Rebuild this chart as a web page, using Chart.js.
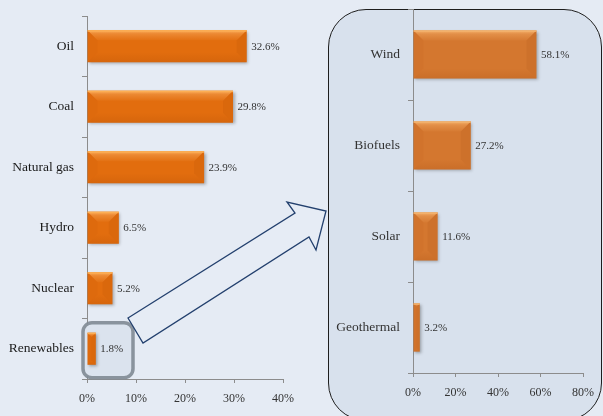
<!DOCTYPE html>
<html>
<head>
<meta charset="utf-8">
<script src="https://cdn.jsdelivr.net/npm/chart.js@4/dist/chart.umd.min.js"></script>
<style>
  html, body { margin: 0; padding: 0; background: #e5ebf4; width: 603px; height: 416px; overflow: hidden; }
  #wrap { position: relative; width: 603px; height: 416px; }
  #panel { position: absolute; left: 328px; top: 9px; width: 272px; height: 410px;
           border: 1.5px solid #1e1e1e; border-radius: 38px; background: #d8e1ed; }
  canvas { position: absolute; top: 0; }
  #mixChart { left: 0; }
  #renewChart { left: 300px; }
  #callout { left: 0; pointer-events: none; }
</style>
</head>
<body>
<div id="wrap">
  <div id="panel"></div>
  <canvas id="mixChart" width="300" height="416"></canvas>
  <canvas id="renewChart" width="303" height="416"></canvas>
  <canvas id="callout" width="603" height="416"></canvas>
</div>
<script>
// Share of primary energy supply by source (%)
const sourceLabels = ['Oil', 'Coal', 'Natural gas', 'Hydro', 'Nuclear', 'Renewables'];
const sourceShares = [32.6, 29.8, 23.9, 6.5, 5.2, 1.8];
const sourceTicks = [0, 10, 20, 30, 40];

// Breakdown of the renewables share (%)
const renewLabels = ['Wind', 'Biofuels', 'Solar', 'Geothermal'];
const renewShares = [58.1, 27.2, 11.6, 3.2];
const renewTicks = [0, 20, 40, 60, 80];

Chart.defaults.font.family = "'Liberation Serif', 'DejaVu Serif', serif";
Chart.defaults.animation = false;

// Drop shadow under each bar, soft bevelled faces on top, and the value label.
function bevelBars(light, labelColor) {
  return {
    id: 'bevelBars',
    beforeDatasetDraw(chart) {
      const c = chart.ctx;
      c.save();
      c.shadowColor = 'rgba(40,40,40,0.35)';
      c.shadowBlur = 3;
      c.shadowOffsetX = 1.5;
      c.shadowOffsetY = 1.5;
    },
    afterDatasetDraw(chart) { chart.ctx.restore(); },
    afterDatasetsDraw(chart) {
      const c = chart.ctx;
      const ds = chart.data.datasets[0];
      chart.getDatasetMeta(0).data.forEach((bar, i) => {
        const p = bar.getProps(['x', 'y', 'base', 'height'], true);
        const l = Math.min(p.base, p.x), r = Math.max(p.base, p.x);
        const t = p.y - p.height / 2, bt = p.y + p.height / 2;
        const b = Math.min(10, (r - l) / 2, (bt - t) / 2);
        c.save();
        // top face
        const g = c.createLinearGradient(0, t, 0, t + b);
        g.addColorStop(0, light);
        g.addColorStop(0.35, 'rgba(255,190,120,0.35)');
        g.addColorStop(1, 'rgba(255,190,120,0.05)');
        c.fillStyle = g;
        c.beginPath();
        c.moveTo(l, t); c.lineTo(r, t); c.lineTo(r - b, t + b); c.lineTo(l + b, t + b); c.closePath();
        c.fill();
        // bottom face
        const gb = c.createLinearGradient(0, bt - b, 0, bt);
        gb.addColorStop(0, 'rgba(140,55,0,0.0)');
        gb.addColorStop(1, 'rgba(140,55,0,0.14)');
        c.fillStyle = gb;
        c.beginPath();
        c.moveTo(l, bt); c.lineTo(r, bt); c.lineTo(r - b, bt - b); c.lineTo(l + b, bt - b); c.closePath();
        c.fill();
        // left face
        c.fillStyle = 'rgba(150,60,0,0.05)';
        c.beginPath();
        c.moveTo(l, t); c.lineTo(l + b, t + b); c.lineTo(l + b, bt - b); c.lineTo(l, bt); c.closePath();
        c.fill();
        // right face
        c.fillStyle = 'rgba(130,50,0,0.08)';
        c.beginPath();
        c.moveTo(r, t); c.lineTo(r - b, t + b); c.lineTo(r - b, bt - b); c.lineTo(r, bt); c.closePath();
        c.fill();
        // top highlight edge
        c.fillStyle = light;
        c.fillRect(l, t, r - l, 1.5);
        // value label
        c.fillStyle = labelColor;
        c.font = "11px 'Liberation Serif', serif";
        c.textAlign = 'left';
        c.textBaseline = 'middle';
        c.fillText(ds.data[i].toFixed(1) + '%', r + 4.5, p.y + 0.5);
        c.restore();
      });
    }
  };
}

// Rounded highlight around the Renewables bar
const renewHighlight = {
  id: 'renewHighlight',
  boxRect(chart) {
    const xs = chart.scales.x, ys = chart.scales.y;
    const x0 = xs.getPixelForValue(0);
    const cy = ys.getPixelForValue(sourceLabels.indexOf('Renewables'));
    return { x: x0 - 4, y: cy - 26, w: 50, h: 55 };
  },
  beforeDatasetsDraw(chart) {
    const r = this.boxRect(chart), c = chart.ctx;
    c.save();
    c.fillStyle = '#dbe3ee';
    c.beginPath(); c.roundRect(r.x, r.y, r.w, r.h, 9); c.fill();
    c.restore();
  },
  afterDraw(chart) {
    const r = this.boxRect(chart), c = chart.ctx;
    c.save();
    c.strokeStyle = 'rgba(128,138,148,0.9)';
    c.lineWidth = 3.5;
    c.beginPath(); c.roundRect(r.x, r.y, r.w, r.h, 9); c.stroke();
    c.restore();
  }
};

function axisOptions(tickValues, yWidth, xHeight, labelColor) {
  return {
    x: {
      type: 'linear', min: tickValues[0], max: tickValues[tickValues.length - 1],
      afterBuildTicks(scale) { scale.ticks = tickValues.map(v => ({ value: v })); },
      afterFit(scale) { scale.height = xHeight; scale.paddingLeft = 0; scale.paddingRight = 0; },
      border: { color: '#8c8c8c', width: 1 },
      grid: { drawOnChartArea: false, drawTicks: true, tickLength: 4, color: '#8c8c8c' },
      ticks: { color: '#333', font: { size: 12 }, padding: 9, callback: v => v + '%' }
    },
    y: {
      type: 'category', offset: true,
      afterFit(scale) { scale.width = yWidth; scale.paddingTop = 0; scale.paddingBottom = 0; },
      border: { color: '#8c8c8c', width: 1 },
      grid: { offset: true, drawOnChartArea: false, drawTicks: true, tickLength: 5, color: '#8c8c8c' },
      ticks: { color: labelColor, font: { size: 13.5 }, padding: 8 }
    }
  };
}

new Chart(document.getElementById('mixChart'), {
  type: 'bar',
  data: {
    labels: sourceLabels,
    datasets: [{ data: sourceShares, backgroundColor: '#e26d0e', borderWidth: 0,
                 categoryPercentage: 1, barPercentage: 0.53 }]
  },
  options: {
    indexAxis: 'y', responsive: false,
    layout: { padding: { left: 0, top: 16, right: 17, bottom: 0 } },
    plugins: { legend: { display: false }, tooltip: { enabled: false } },
    scales: axisOptions(sourceTicks, 87, 37, '#1a1a1a')
  },
  plugins: [renewHighlight, bevelBars('rgba(252,175,85,0.95)', '#333')]
});

new Chart(document.getElementById('renewChart'), {
  type: 'bar',
  data: {
    labels: renewLabels,
    datasets: [{ data: renewShares, backgroundColor: '#d4772f', borderWidth: 0,
                 categoryPercentage: 1, barPercentage: 0.53 }]
  },
  options: {
    indexAxis: 'y', responsive: false,
    layout: { padding: { left: 0, top: 9, right: 20, bottom: 0 } },
    plugins: { legend: { display: false }, tooltip: { enabled: false } },
    scales: axisOptions(renewTicks, 113, 43, '#333')
  },
  plugins: [bevelBars('rgba(242,178,110,0.95)', '#333')]
});

// Block arrow leading from the Renewables highlight to the breakdown panel
const arrowOutline = [[128, 318], [295, 213], [287, 202], [326, 211], [316, 250], [309, 237], [143, 343]];
(function drawArrow() {
  const c = document.getElementById('callout').getContext('2d');
  c.beginPath();
  arrowOutline.forEach(([x, y], i) => i ? c.lineTo(x, y) : c.moveTo(x, y));
  c.closePath();
  c.fillStyle = '#e6ecf5';
  c.fill();
  c.strokeStyle = '#23406e';
  c.lineWidth = 1.3;
  c.lineJoin = 'miter';
  c.stroke();
})();
</script>
</body>
</html>
